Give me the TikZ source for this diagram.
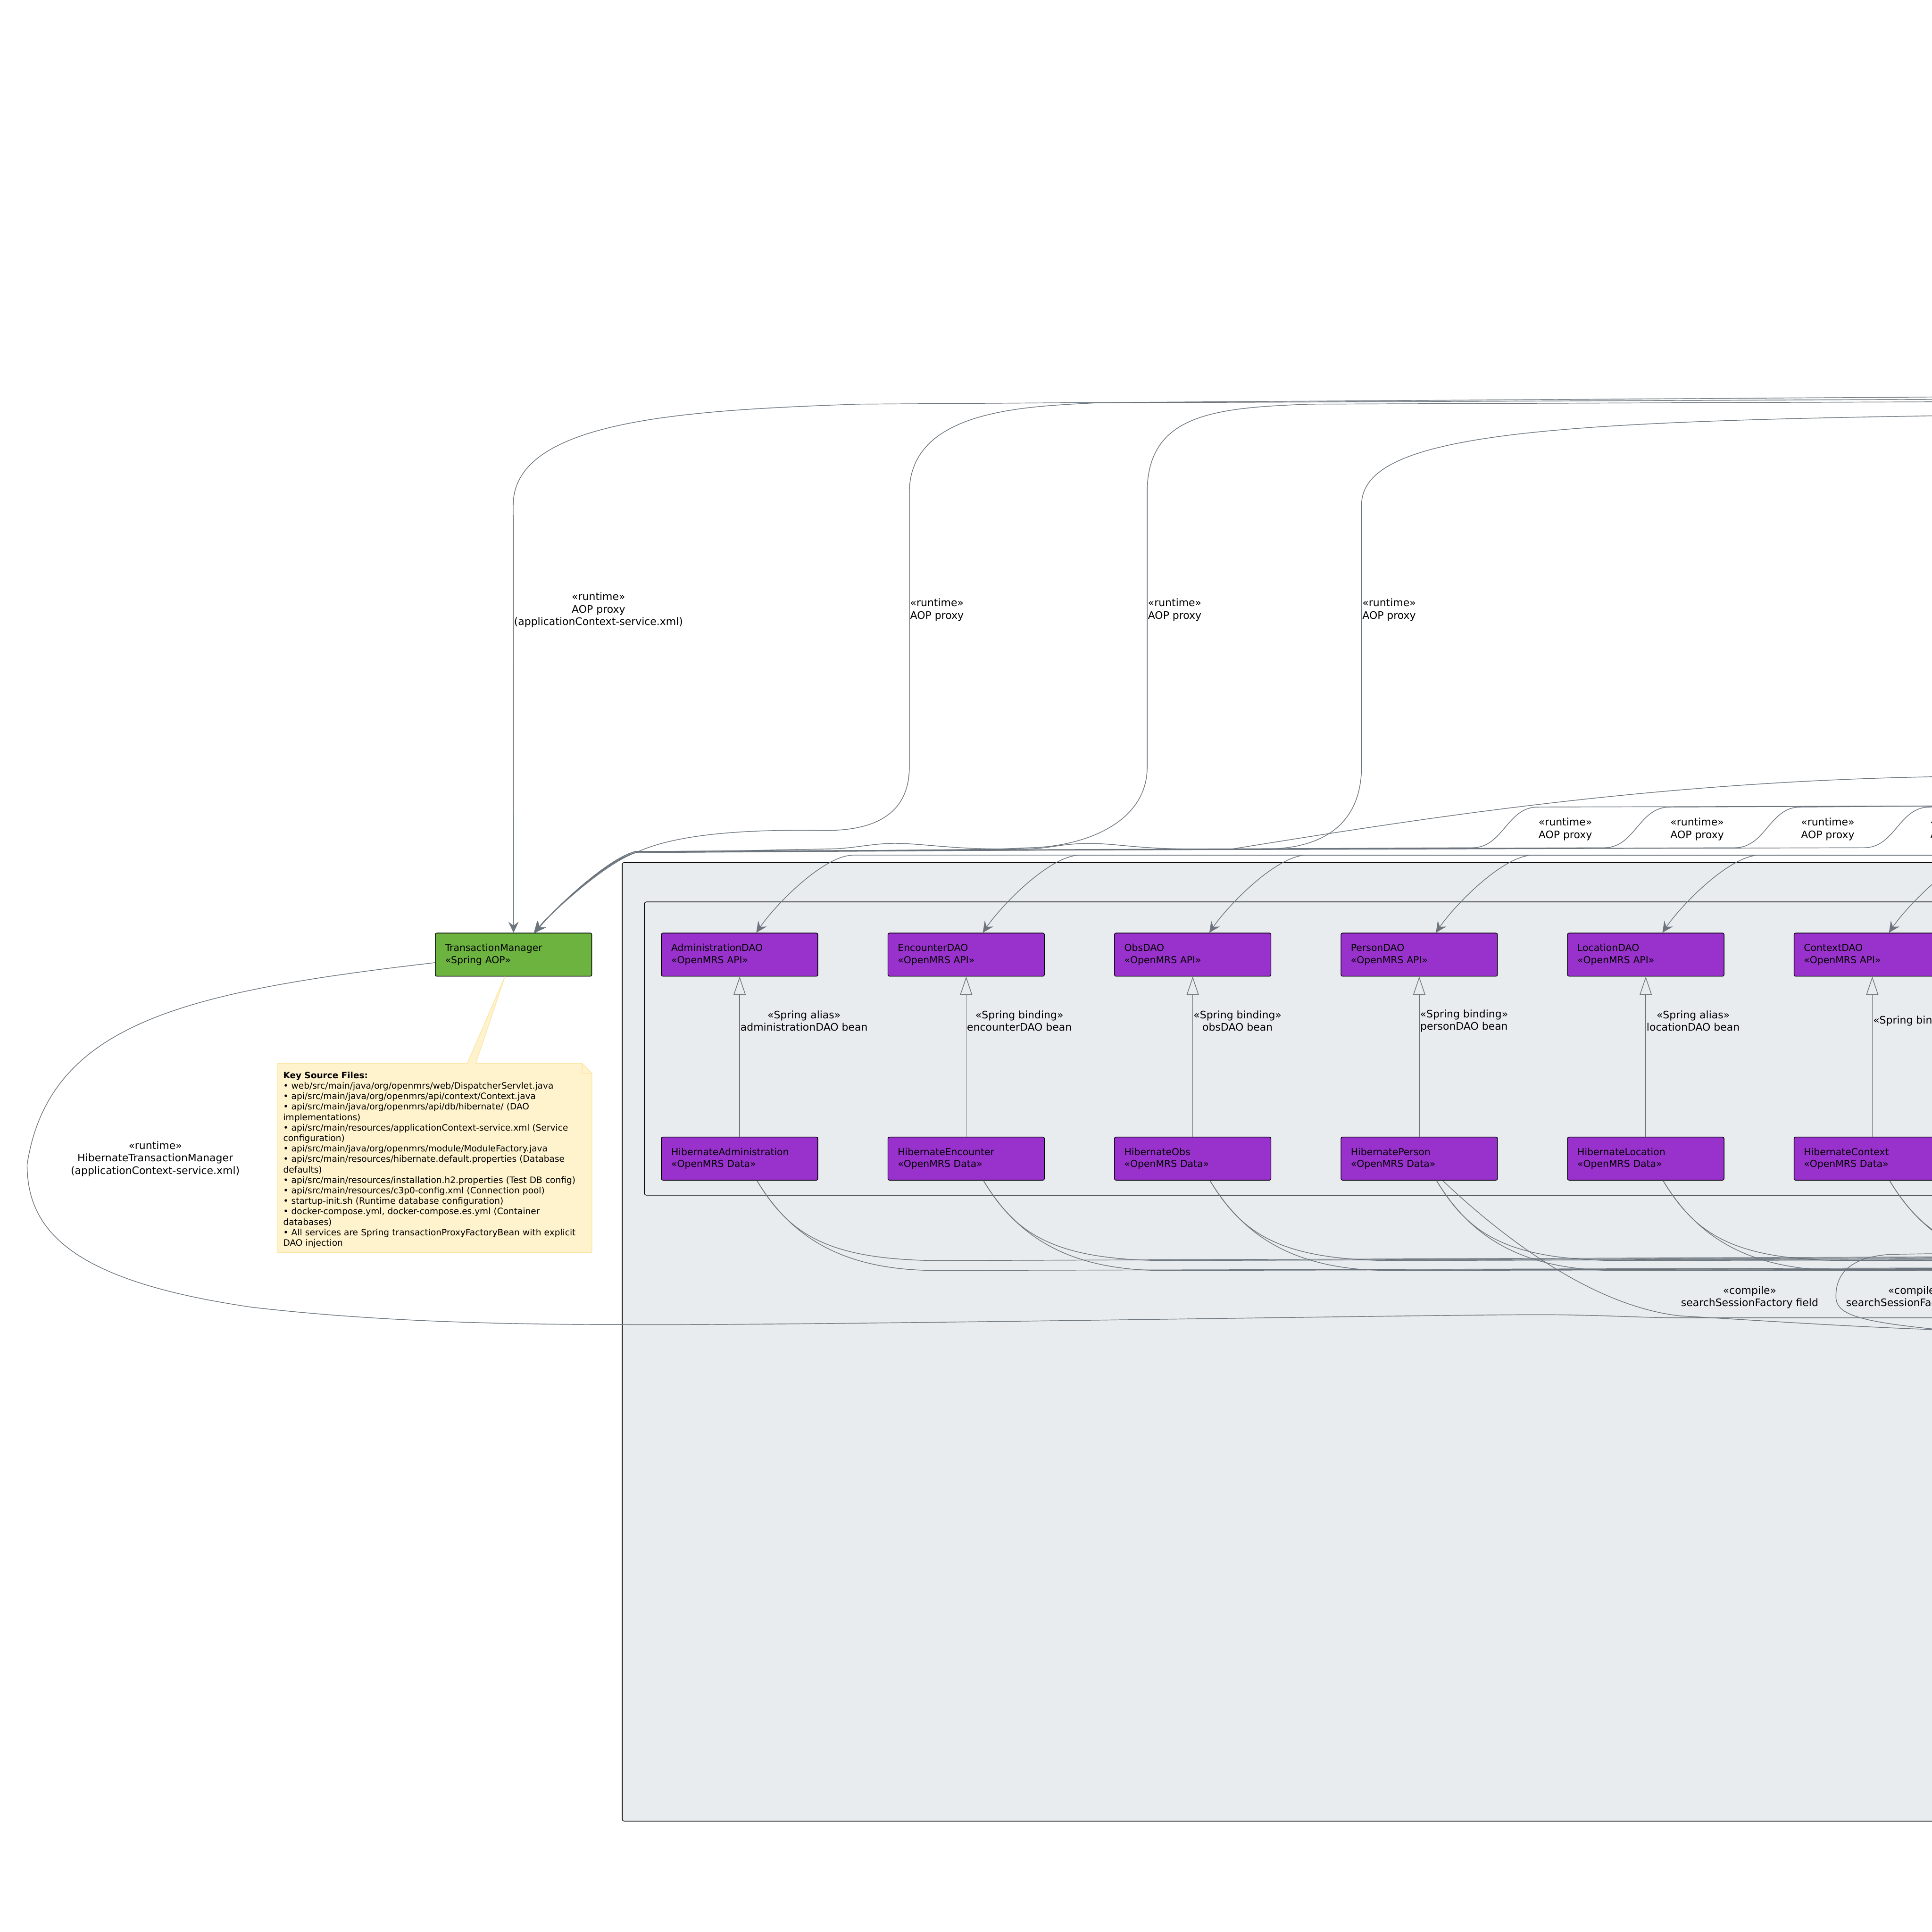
\documentclass[tikz,border=0pt]{standalone}
\usepackage{fontspec}
\setmainfont{DejaVu Sans}
\usetikzlibrary{arrows.meta,positioning}

\definecolor{daoviolet}{HTML}{9932CC}
\definecolor{springgreen}{HTML}{6DB33F}
\definecolor{relgray}{HTML}{6C757D}
\definecolor{pkggray}{HTML}{E9ECEF}
\definecolor{noteyellow}{HTML}{FFF3CD}
\definecolor{noteedge}{HTML}{FCE6A4}

\begin{document}
\begin{tikzpicture}[x=1pt,y=-1pt]
\tikzset{component/.style =
{draw=black, line width=0.55pt, rounded corners=1.2pt,
minimum height=35pt, text width=111pt, inner xsep=8pt,
align=left, font=\fontsize{7.8}{9.8}\selectfont}}
\tikzset{dao/.style={component, fill=daoviolet},
spring/.style={component, fill=springgreen},
pkg/.style={draw=black, line width=0.55pt, fill=pkggray, rounded corners=1.5pt},
rel/.style={draw=relgray, line width=0.55pt},
uses/.style={rel, -{Stealth[length=9pt,width=8.5pt,inset=3.2pt]}},
realizes/.style={rel, -{Triangle[open,length=15pt,width=10pt]}},
lbl/.style={font=\fontsize{8.4}{10.1}\selectfont, align=center, inner sep=0.5pt},
notebody/.style={draw=noteedge, fill=noteyellow, line width=0.55pt}}

\fill[white] (0,0) rectangle (1568,1568);
\useasboundingbox (0,0) rectangle (1568,1568);

% containers
\draw[pkg] (505,700) rectangle (1640,1478);
\draw[pkg] (523,732) rectangle (1630,970);

\node[dao, anchor=north west] (adm) at (536.5,757) {AdministrationDAO\\«OpenMRS API»};
\node[dao, right=56.3pt of adm] (enc) {EncounterDAO\\«OpenMRS API»};
\node[dao, right=56.3pt of enc] (obs) {ObsDAO\\«OpenMRS API»};
\node[dao, right=56.3pt of obs] (per) {PersonDAO\\«OpenMRS API»};
\node[dao, right=56.3pt of per] (loc) {LocationDAO\\«OpenMRS API»};
\node[dao, right=56.3pt of loc] (ctx) {ContextDAO\\«OpenMRS API»};

\node[dao, below=130pt of adm] (hadm) {HibernateAdministration\\«OpenMRS Data»};
\node[dao, below=130pt of enc] (henc) {HibernateEncounter\\«OpenMRS Data»};
\node[dao, below=130pt of obs] (hobs) {HibernateObs\\«OpenMRS Data»};
\node[dao, below=130pt of per] (hper) {HibernatePerson\\«OpenMRS Data»};
\node[dao, below=130pt of loc] (hloc) {HibernateLocation\\«OpenMRS Data»};
\node[dao, below=130pt of ctx] (hctx) {HibernateContext\\«OpenMRS Data»};

\node[spring, anchor=north west] (tm) at (353,757) {TransactionManager\\«Spring AOP»};

% note
\node[anchor=north west, inner sep=0pt, minimum width=255pt, minimum height=153pt] (keynote) at (225,863) {};
\filldraw[notebody] (keynote.north west) -- ([xshift=-8pt]keynote.north east) -- ([yshift=-8pt]keynote.north east)
  -- (keynote.south east) -- (keynote.south west) -- cycle;
\draw[notebody, fill=none] ([xshift=-8pt]keynote.north east) |- ([yshift=-8pt]keynote.north east);
\filldraw[notebody] ([xshift=153.8pt,yshift=-1pt]keynote.north west) -- ([xshift=-7pt]tm.south)
  -- ([xshift=160.8pt,yshift=-1pt]keynote.north west);
\node[anchor=north west, inner sep=0pt, align=left, text width=250pt,
  font=\fontsize{7.1}{8.5}\selectfont] (keytext) at (229.7,869.6)
{\textbf{Key Source Files:}\\
• web/src/main/java/org/openmrs/web/DispatcherServlet.java\\
• api/src/main/java/org/openmrs/api/context/Context.java\\
• api/src/main/java/org/openmrs/api/db/hibernate/ (DAO\\
implementations)\\
• api/src/main/resources/applicationContext-service.xml (Service\\
configuration)\\
• api/src/main/java/org/openmrs/module/ModuleFactory.java\\
• api/src/main/resources/hibernate.default.properties (Database\\
defaults)\\
• api/src/main/resources/installation.h2.properties (Test DB config)\\
• api/src/main/resources/c3p0-config.xml (Connection pool)\\
• startup-init.sh (Runtime database configuration)\\
• docker-compose.yml, docker-compose.es.yml (Container\\
databases)\\
• All services are Spring transactionProxyFactoryBean with explicit\\
DAO injection};

\coordinate (svcA) at (1600,322);
\coordinate (svcB) at (1600,324);
\coordinate (svcC) at (1600,326);
\coordinate (svcD) at (1600,337);
\coordinate (svcE) at (1600,630);
\coordinate (aopIn) at (1600,654);
\coordinate (daoIn) at (1600,694);
\coordinate (sfUp) at (1600,1020);
\coordinate (sfLow) at (1600,1029);
\coordinate (sfLoop) at (1600,1017);
\coordinate (sfEnd) at (1600,1080);
\coordinate (htmEnd) at (1600,1069.5);

% proxies into the transaction manager
\draw[uses] (svcA) -- (696,328) .. controls (560,333) and (416.5,340) .. (416.5,410) -- (tm.north);
\node[lbl, anchor=west] (lsvcA) at (416.5,495) {«runtime»\\AOP proxy\\(applicationContext-service.xml)};
\draw[uses] (svcB) -- (889,327) .. controls (830,330) and (738,333) .. (738,400) -- (738,624)
  .. controls (737,664) and (705,674) .. (670,674) .. controls (610,673) and (550,676) .. (516,692)
  .. controls (492,700) and (448,740) .. ([xshift=16.5pt]tm.north);
\node[lbl, anchor=west] (lsvcB) at (738,495) {«runtime»\\AOP proxy};
\draw[uses] (svcC) -- (1063,328) .. controls (985,331) and (931,336) .. (931,400) -- (931,624)
  .. controls (930,668) and (880,687) .. (836,688) -- (812,689) .. controls (770,689) and (745,684) .. (723,684.5)
  .. controls (705,685) and (690,689) .. (672,689) -- (516,692)
  .. controls (492,698) and (448,740) .. ([xshift=17pt]tm.north);
\node[lbl, anchor=west] (lsvcC) at (931,495) {«runtime»\\AOP proxy};
\draw[uses] (svcD) .. controls (1250,342) and (1105,352) .. (1105,410) -- (1105,624)
  .. controls (1104,668) and (1075,688) .. (1030,689) -- (968,689) .. controls (920,689) and (905,684) .. (880,684.6)
  .. controls (860,685) and (850,689) .. (832,689) -- (516,692)
  .. controls (492,698) and (448,740) .. ([xshift=17.5pt]tm.north);
\node[lbl, anchor=west] (lsvcD) at (1105,495) {«runtime»\\AOP proxy};
\draw[uses] (svcE) .. controls (1350,632) and (1150,665) .. (1000,689) -- (516,692)
  .. controls (492,698) and (448,740) .. ([xshift=17pt]tm.north);
\foreach \xl/\n in {1248/a,1355/b,1461/c,1566/d}{
\draw[uses] (aopIn) -- (\xl,655) .. controls (\xl-25,655) and (\xl-28,688) .. (\xl-53,688) -- (516,691)
  .. controls (492,697) and (448,740) .. ([xshift=17pt]tm.north);
\node[lbl, anchor=west] (aop\n) at (\xl,673) {«runtime»\\AOP proxy};
}

% proxies into the DAOs
\foreach \d in {adm,enc,obs,per,loc,ctx}
\draw[uses] (daoIn) -- ([shift={(92.5,-63)}]\d.north) .. controls ([shift={(68,-63)}]\d.north)
  and ([shift={(28.5,-22)}]\d.north) .. ([xshift=13.5pt]\d.north);

\foreach \iface/\impl/\txt in {adm/hadm/{«Spring alias»\\administrationDAO bean},
  enc/henc/{«Spring binding»\\encounterDAO bean}, obs/hobs/{«Spring binding»\\obsDAO bean},
  per/hper/{«Spring binding»\\personDAO bean}, loc/hloc/{«Spring alias»\\locationDAO bean},
  ctx/hctx/{«Spring binding»}}{
\draw[realizes] (\impl) -- (\iface);
\node[lbl, anchor=west] (l\impl) at ([yshift=-36pt]\iface.south) {\txt};
}

% session factory wiring
\foreach \h/\k in {hadm/0,henc/1,hobs/2,hper/3,hloc/4,hctx/5}{
\draw[rel] ([xshift=14pt]\h.south) .. controls ([shift={(40,43)}]\h.south) and ([shift={(70,64)}]\h.south)
  .. ([shift={(160,65)}]\h.south) -- ([yshift={-0.8pt*\k}]sfUp);
\draw[rel] ([xshift=14pt]\h.south) .. controls ([shift={(40,43)}]\h.south) and ([shift={(80,73)}]\h.south)
  .. ([shift={(160,73)}]\h.south) -- ([yshift={-0.6pt*\k}]sfLow);
}
\draw[rel] ([xshift=19pt]hper.south) .. controls (1215,1000) and (1290,1060) .. (1364,1068)
  .. controls (1450,1073) and (1520,1078) .. (sfEnd);
\draw[rel] (sfLoop) -- (1535,1018) .. controls (1500,1020) and (1490,1035) .. (1490,1052)
  .. controls (1490,1066) and (1505,1072) .. (1568,1078.5) -- (sfEnd);
\node[lbl] (lsf1) at (1420,1053) {«compile»\\searchSessionFactory field};
\node[lbl] (lsf2) at (1554,1053) {«compile»\\searchSessionFactory field};

\draw[rel] ([yshift=-6.5pt]tm.west) .. controls (150,805) and (40,830) .. (22,945)
  .. controls (22,1000) and (60,1040) .. (205,1061) .. controls (300,1072) and (400,1075) .. (504,1075)
  .. controls (650,1076) and (1150,1067) .. (1248,1067) .. controls (1300,1067) and (1330,1069.5) .. (1364,1069.5)
  -- (htmEnd);
\node[lbl] (lhtm) at (126,940.5) {«runtime»\\HibernateTransactionManager\\(applicationContext-service.xml)};
\end{tikzpicture}
\end{document}
